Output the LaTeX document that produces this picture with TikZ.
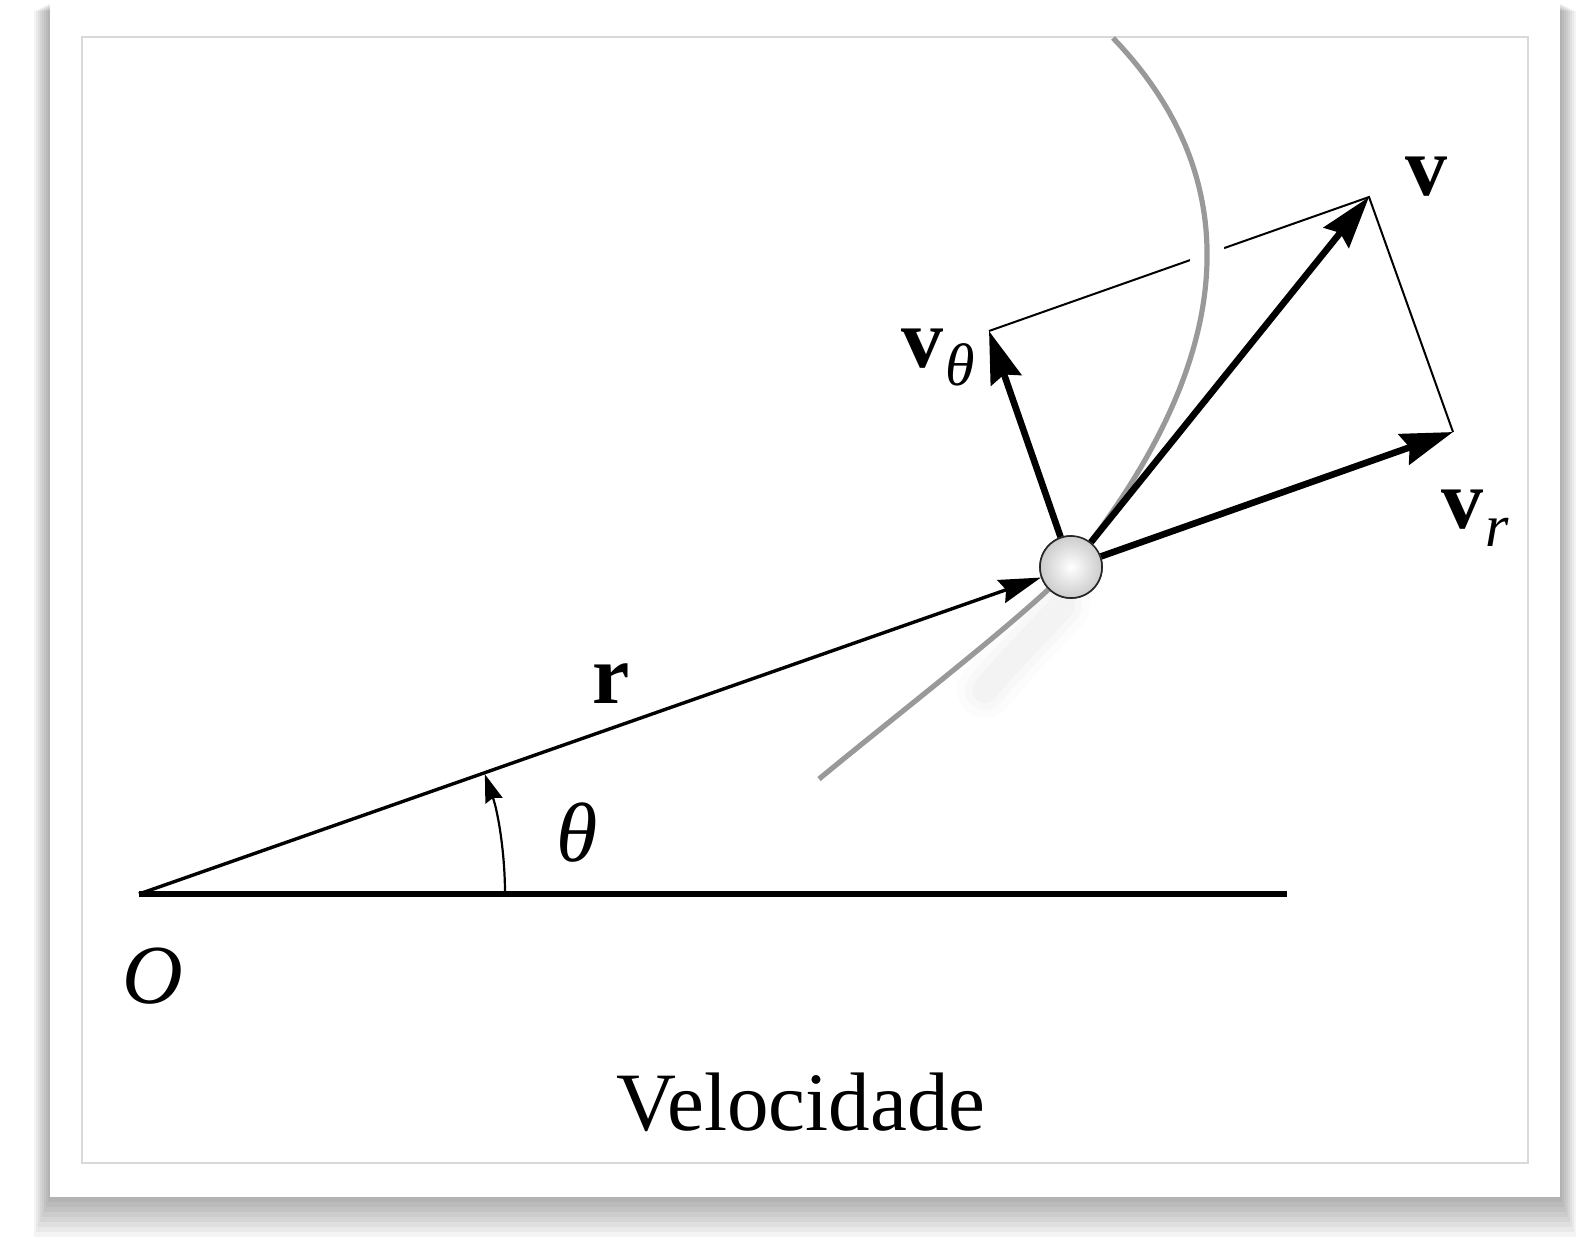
\documentclass[tikz,border=0pt]{standalone}
\usepackage{fontspec}
\setmainfont{Liberation Serif}
\usetikzlibrary{arrows.meta}
\newcommand\vsubl[1]{\textbf{v}\kern1pt\raisebox{-9pt}{\fontsize{30}{30}\selectfont\itshape #1}}
\begin{document}
\begin{tikzpicture}[x=0.5pt,y=-0.5pt,
  vec/.style={line width=3.3pt,-{Stealth[length=26pt,width=16pt,inset=3pt]}},
  rvec/.style={line width=1.7pt,-{Stealth[length=21pt,width=12pt,inset=2.5pt]}},
  thinline/.style={line width=1pt},
  lbl/.style={inner sep=0pt,font=\fontsize{42}{50}\selectfont},
  traj/.style={line width=2.6pt,draw=black!40},
  halo/.style={line width=17pt,draw=white},
  ball/.style={circle,minimum size=31pt,inner sep=0pt,draw=black!85,line width=0.8pt,
      inner color=white,outer color=black!20}
]
\useasboundingbox (0,0) rectangle (1582,1239);
% card shadow
\foreach \i in {1,...,8}{
  \fill[black,opacity=0.045] (50-2*\i,3+\i) rectangle (1560+2*\i,1197+5*\i);
}
\fill[white] (50,3) rectangle (1560,1197);

% points
\coordinate (O) at (139,894);
\coordinate (H) at (1287,894);
\node[ball] (P) at (1071,567) {};
\coordinate (vr) at (1453,432);
\coordinate (v) at (1369,197);
\coordinate (vt) at (989,331);
\coordinate (T0) at (1113,38);
\coordinate (T1) at (819,779);

% baseline
\draw[line width=2.6pt] (O) -- (H);
% angle arc
\draw[line width=1.1pt,-{Stealth[length=14pt,width=9pt,inset=1.5pt]}]
  (O) ++(366,0) arc[start angle=0,end angle=-19.1,radius=366];

% thin completion lines
\draw[thinline] (vt) -- (v) -- (vr);

% faint glow beside the path near particle
\foreach \w/\o in {56/0.012,40/0.016,26/0.02}{
  \draw[line width=\w pt*0.5,black,opacity=\o,line cap=round]
    (1062,606) .. controls (1040,630) and (1010,660) .. (985,690);
}

% trajectory
\draw[halo] (P.center) .. controls (1250,345) and (1240,170) .. (T0);
\draw[line width=0.75pt,draw=black!15] (82,37) rectangle (1528,1163);
\draw[traj] (T0) .. controls (1240,170) and (1250,345) .. (P.center)
   .. controls (1030,612) and (900,712) .. (T1);

% r vector
\draw[rvec] (O) -- (P);

% velocity vectors
\draw[vec] (P) -- (vt);
\draw[vec] (P) -- (v);
\draw[vec] (P) -- (vr);

% particle on top
\node[ball] at (P) {};

% labels
\node[lbl,anchor=base west] (Olbl) at (122,1003) {\textit{O}};
\node[lbl,anchor=base west] (tlbl) at (556,861) {\textit{θ}};
\node[lbl,anchor=base west] (rlbl) at (592,703) {\textbf{r}};
\node[lbl,anchor=base west] (vlbl) at (1405,195) {\textbf{v}};
\node[lbl,anchor=base west] (vtlbl) at (901,367) {\vsubl{θ}};
\node[lbl,anchor=base west] (vrlbl) at (1441,528) {\vsubl{r}};
\node[inner sep=0pt,anchor=base,font=\fontsize{41.5}{50}\selectfont] (cap) at (801,1130) {Velocidade};
\end{tikzpicture}
\end{document}
